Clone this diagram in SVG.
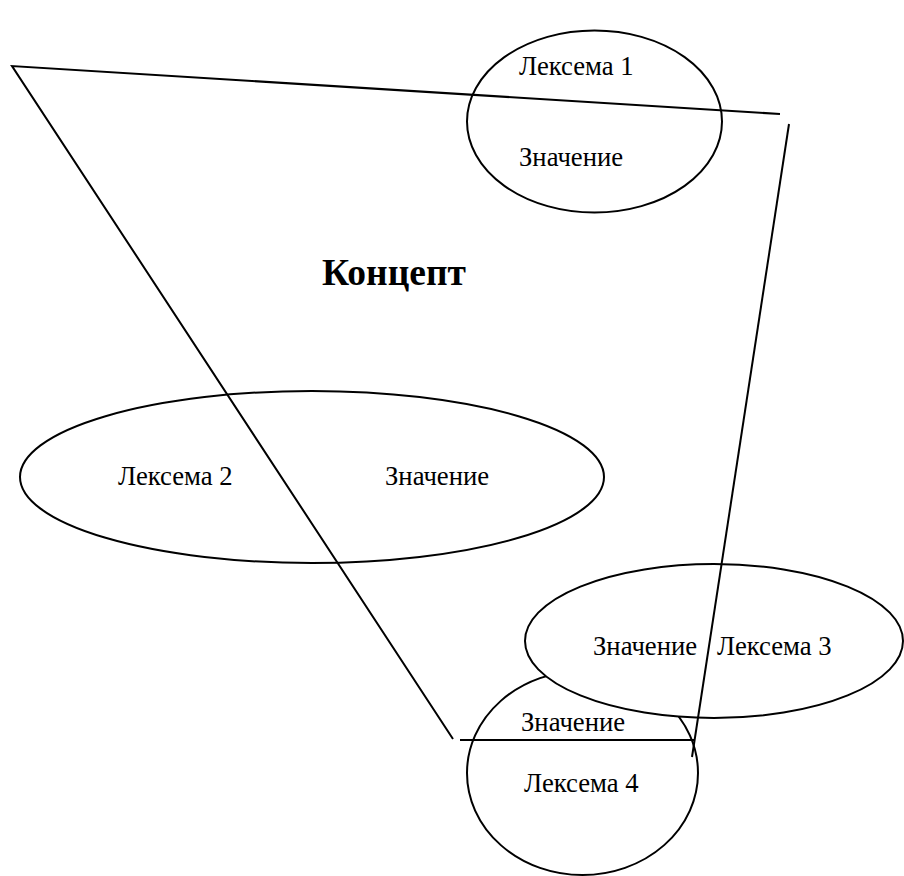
<svg xmlns="http://www.w3.org/2000/svg" width="904" height="876" viewBox="0 0 904 876">
<style>
.sh{fill:#fff;stroke:#000;stroke-width:2}
.ln{fill:none;stroke:#000;stroke-width:2}
text{font-family:"Liberation Serif","Times New Roman",serif;font-size:26.7px;fill:#000}
.title{font-weight:bold;font-size:37.5px}
</style>
<rect width="904" height="876" fill="#fff"/>
<g id="node-lexeme1">
<ellipse class="sh" cx="594.5" cy="121.5" rx="127.5" ry="91"/>
<text x="519" y="75">Лексема 1</text>
<text x="519" y="166">Значение</text>
</g>
<g id="node-lexeme2">
<ellipse class="sh" cx="312" cy="477" rx="292" ry="86"/>
<text x="118" y="485">Лексема 2</text>
<text x="385" y="485">Значение</text>
</g>
<g id="node-lexeme4">
<ellipse class="sh" cx="582.5" cy="773" rx="115.5" ry="102"/>
<text x="521" y="731">Значение</text>
<text x="524" y="792">Лексема 4</text>
</g>
<g id="node-lexeme3">
<ellipse class="sh" cx="714" cy="641" rx="189" ry="77"/>
<text x="593" y="655">Значение</text>
<text x="717" y="655">Лексема 3</text>
</g>
<g id="connectors">
<polyline class="ln" points="780,114 12,66 453,739"/>
<line class="ln" x1="460" y1="740" x2="694" y2="740"/>
<line class="ln" x1="789" y1="124" x2="692" y2="757"/>
</g>
<g id="title">
<text class="title" x="322" y="285">Концепт</text>
</g>
</svg>
